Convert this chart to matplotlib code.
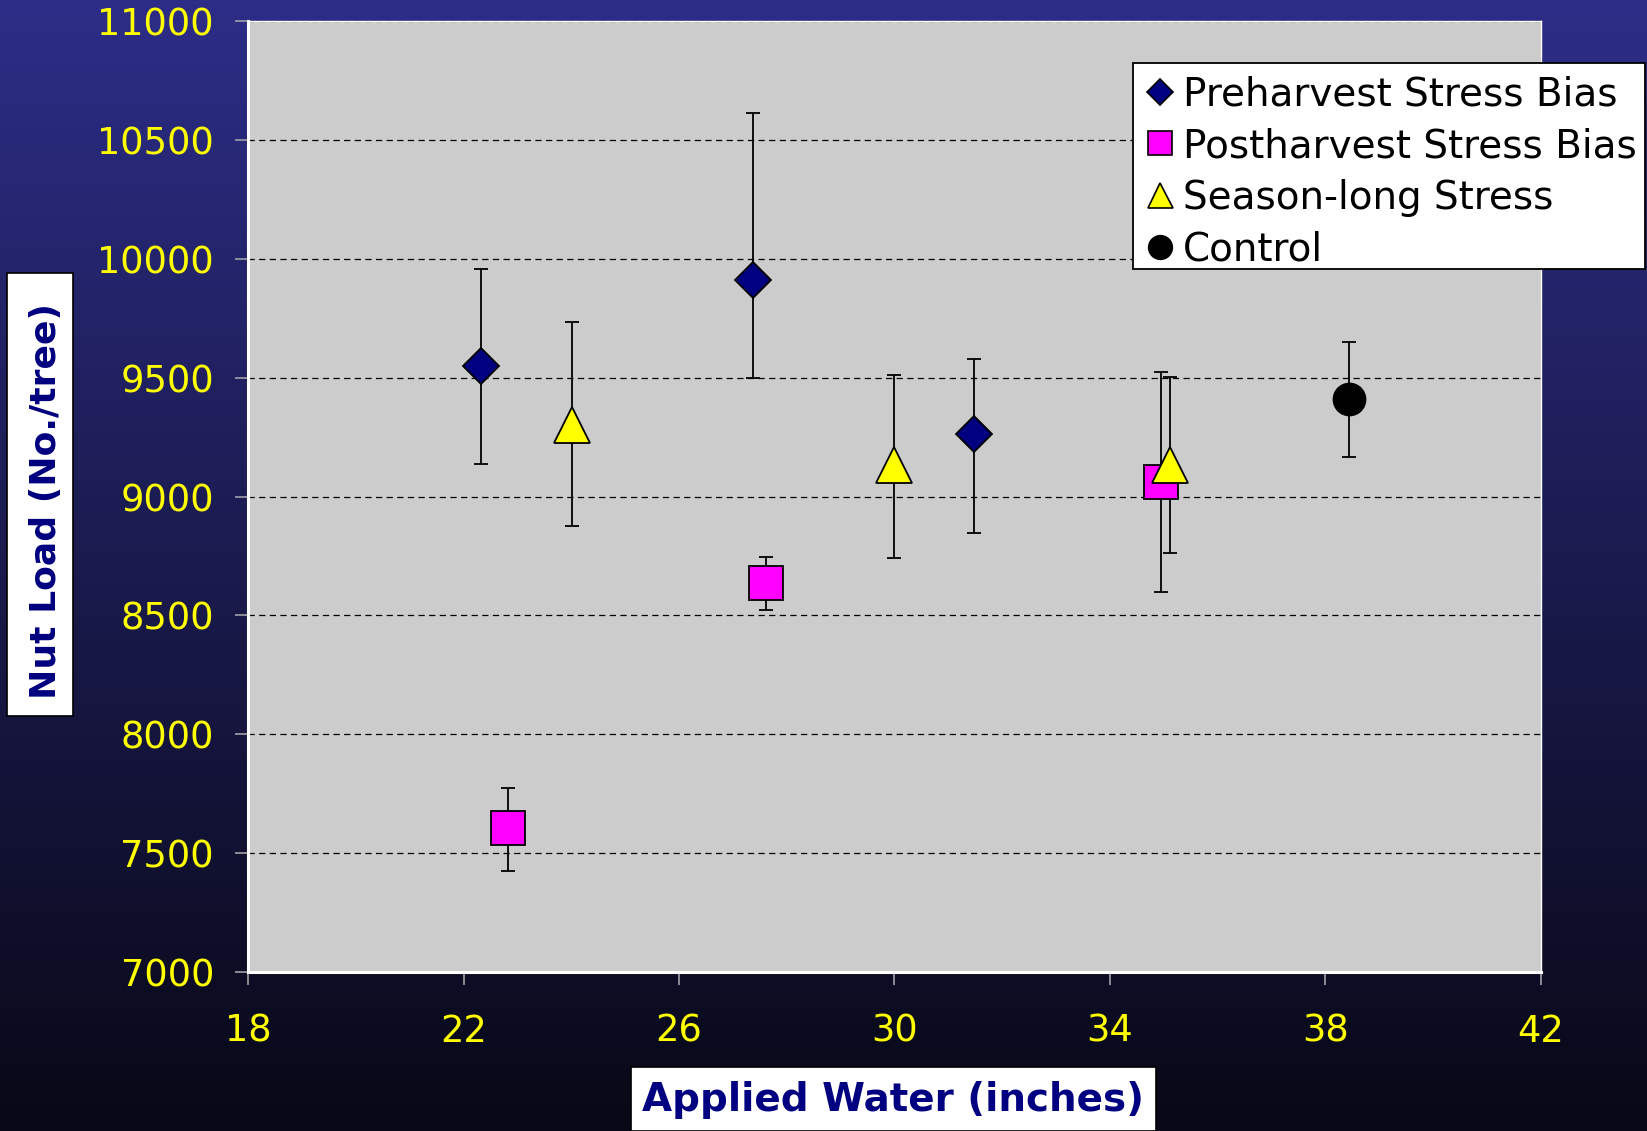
import numpy as np
import matplotlib
matplotlib.use("Agg")
import matplotlib.pyplot as plt
from matplotlib.lines import Line2D
from matplotlib.patches import Rectangle

# ---- data ----
pre_x = [22.32, 27.37, 31.48]
pre_y = [9550, 9910, 9263]
pre_hi = [9958, 10613, 9577]
pre_lo = [9137, 9499, 8848]

post_x = [22.82, 27.62, 34.95]
post_y = [7605, 8636, 9062]
post_hi = [7773, 8746, 9524]
post_lo = [7424, 8521, 8600]

season_x = [24.01, 30.00, 35.12]
season_y = [9300, 9131, 9134]
season_hi = [9734, 9511, 9504]
season_lo = [8875, 8742, 8763]

ctrl_x = [38.43]
ctrl_y = [9410]
ctrl_hi = [9648]
ctrl_lo = [9165]

labels = ["Preharvest Stress Bias", "Postharvest Stress Bias", "Season-long Stress", "Control"]
x_ticks = [18, 22, 26, 30, 34, 38, 42]
y_ticks = [7000, 7500, 8000, 8500, 9000, 9500, 10000, 10500, 11000]

plt.rcParams['font.family'] = ['DejaVu Sans']

W, H = 1647, 1131
fig = plt.figure(figsize=(W / 100, H / 100), dpi=100)

# gradient background
bg = fig.add_axes([0, 0, 1, 1], zorder=-10)
top = np.array([45, 45, 135]) / 255.0
bot = np.array([8, 8, 22]) / 255.0
t = np.linspace(0, 1, 256)[:, None]
grad = top[None, :] * (1 - t) + bot[None, :] * t
bg.imshow(grad[:, None, :], aspect='auto', extent=[0, 1, 0, 1])
bg.set_axis_off()

ax = fig.add_axes([248 / W, 1 - 972 / H, (1541 - 248) / W, (972 - 21) / H])
ax.set_facecolor('#CCCCCC')
ax.set_xlim(18, 42)
ax.set_ylim(7000, 11000)
ax.set_xticks(x_ticks)
ax.set_yticks(y_ticks)
ax.tick_params(axis='both', colors='#A0A0A8', labelcolor='#FFFF00', labelsize=26.5,
               length=9.4, width=1.2, direction='out')
ax.tick_params(axis='y', pad=15)
ax.tick_params(axis='x', pad=20)
for s in ['left', 'bottom']:
    ax.spines[s].set_color('white')
    ax.spines[s].set_linewidth(2.2)
for s in ['top', 'right']:
    ax.spines[s].set_color('white')
    ax.spines[s].set_linewidth(1.0)
ax.grid(axis='y', color='black', linestyle=(0, (5, 3.5)), linewidth=0.9)
ax.set_axisbelow(True)

def series(x, y, lo, hi, marker, ms, fc):
    y = np.array(y)
    yerr = [y - np.array(lo), np.array(hi) - y]
    ax.errorbar(x, y, yerr=yerr, fmt=marker, ms=ms, mfc=fc, mec='black', mew=1.3,
                ecolor='black', elinewidth=1.3, capsize=4.7, capthick=1.3, zorder=3)

series(pre_x, pre_y, pre_lo, pre_hi, 'D', 18.4, '#000080')
series(post_x, post_y, post_lo, post_hi, 's', 25, '#FF00FF')
series(season_x, season_y, season_lo, season_hi, '^', 26, '#FFFF00')
series(ctrl_x, ctrl_y, ctrl_lo, ctrl_hi, 'o', 23, 'black')

# legend frame drawn explicitly
fig.patches.append(Rectangle((1133 / W, 1 - 269 / H), (1645 - 1133) / W, (269 - 63) / H,
                             transform=fig.transFigure, facecolor='white',
                             edgecolor='black', linewidth=1.3, zorder=4))
handles = [
    Line2D([], [], ls='none', marker='D', ms=13, mfc='#000080', mec='black', mew=1.2),
    Line2D([], [], ls='none', marker='s', ms=17, mfc='#FF00FF', mec='black', mew=1.2),
    Line2D([], [], ls='none', marker='^', ms=18, mfc='#FFFF00', mec='black', mew=1.2),
    Line2D([], [], ls='none', marker='o', ms=17, mfc='black', mec='black', mew=1.2),
]
leg = fig.legend(handles, labels, loc='upper left', bbox_to_anchor=(1133 / W, 1 - 63 / H),
                 fontsize=28, frameon=False, borderpad=0.32,
                 handlelength=0.75, handletextpad=0.22, labelspacing=0.35, borderaxespad=0)
leg.set_zorder(6)
for txt in leg.get_texts():
    txt.set_color('black')

# y label box
fig.patches.append(Rectangle((7 / W, 1 - 716 / H), 66 / W, (716 - 273) / H,
                             transform=fig.transFigure, facecolor='white',
                             edgecolor='black', linewidth=1.2, zorder=5))
fig.text(46 / W, 1 - 501 / H, "Nut Load (No./tree)", rotation=90, ha='center', va='center',
         fontsize=26, fontweight='bold', color='#000080', zorder=6)

# x label box
fig.patches.append(Rectangle((631 / W, 0), (1156 - 631) / W, (H - 1067) / H,
                             transform=fig.transFigure, facecolor='white',
                             edgecolor='black', linewidth=1.2, zorder=5))
fig.text(893 / W, 1 - 1100 / H, "Applied Water (inches)", ha='center', va='center',
         fontsize=28, fontweight='bold', color='#000080', zorder=6)

fig.savefig("out.png", dpi=100)
